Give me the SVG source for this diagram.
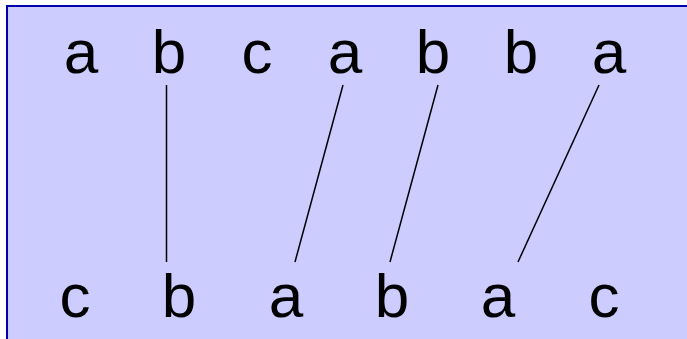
<svg xmlns="http://www.w3.org/2000/svg" width="687" height="339" viewBox="0 0 687 339">
<style>
.t{font-family:"Liberation Sans",Arial,sans-serif;font-size:62px;fill:#000;text-anchor:middle}
.c line{stroke:#000;stroke-width:1.5}
</style>
<rect x="7" y="6" width="690" height="350" fill="#CCCCFF" stroke="#0000AA" stroke-width="2"/>
<g id="top">
<g id="t1"><text class="t" x="81" y="73">a</text></g>
<g id="t2"><text class="t" x="169" y="73">b</text></g>
<g id="t3"><text class="t" x="257" y="73">c</text></g>
<g id="t4"><text class="t" x="345" y="73">a</text></g>
<g id="t5"><text class="t" x="433" y="73">b</text></g>
<g id="t6"><text class="t" x="521" y="73">b</text></g>
<g id="t7"><text class="t" x="609" y="73">a</text></g>
</g>
<g id="bottom">
<g id="b1"><text class="t" x="75" y="317">c</text></g>
<g id="b2"><text class="t" x="179" y="317">b</text></g>
<g id="b3"><text class="t" x="286" y="317">a</text></g>
<g id="b4"><text class="t" x="392" y="317">b</text></g>
<g id="b5"><text class="t" x="498" y="317">a</text></g>
<g id="b6"><text class="t" x="604" y="317">c</text></g>
</g>
<g id="connectors" class="c">
<line x1="166.5" y1="85" x2="166.5" y2="262"/>
<line x1="343" y1="85" x2="295" y2="262"/>
<line x1="438" y1="85" x2="390" y2="262"/>
<line x1="599" y1="85" x2="518" y2="262"/>
</g>
</svg>
